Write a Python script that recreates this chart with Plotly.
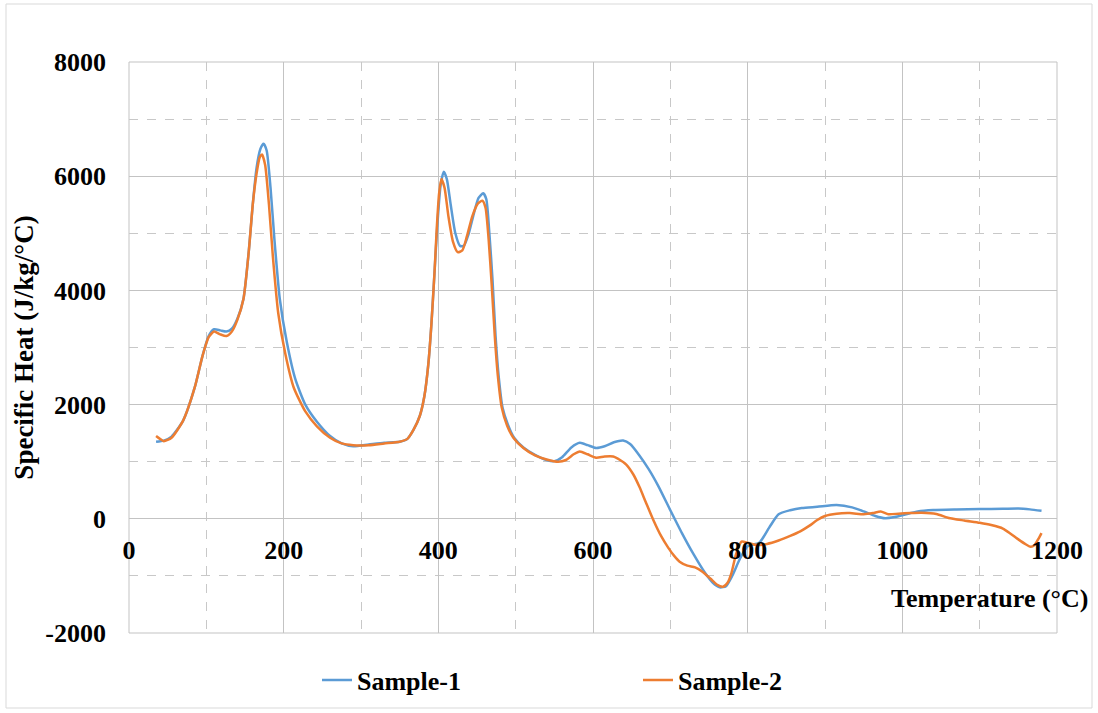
import plotly.graph_objects as go

# ---------------- data ----------------
s1_temp = [35, 45, 55, 70, 85, 95, 103, 110, 118, 126, 133, 140, 148, 155, 160, 165, 170, 174, 178, 183,
           188, 195, 204, 215, 228, 243, 260, 275, 290, 310, 330, 350, 360, 368, 376, 382, 387, 391, 395, 399,
           403, 407, 411, 416, 422, 428, 433, 439, 446, 452, 458, 462, 466, 470, 474, 478, 483, 490, 498, 510,
           525, 540, 550, 560, 572, 583, 593, 604, 615, 627, 639, 648, 660, 672, 685, 700, 715, 730, 745, 755,
           764, 772, 780, 790, 800, 815, 828, 840, 855, 870, 890, 915, 935, 950, 965, 978, 990, 1005, 1020, 1040,
           1070, 1100, 1130, 1150, 1165, 1180]
s1_cp = [1350, 1370, 1440, 1720, 2300, 2850, 3200, 3320, 3300, 3280, 3330, 3500, 3850, 4700, 5500, 6150, 6480, 6570, 6450, 5800,
         4900, 3850, 3100, 2450, 2000, 1700, 1450, 1320, 1270, 1300, 1330, 1350, 1400, 1560, 1800, 2150, 2700, 3400, 4300, 5200,
         5850, 6080, 5950, 5500, 5000, 4780, 4780, 4980, 5350, 5620, 5700, 5600, 5000, 4200, 3200, 2500, 1950, 1650, 1420, 1250,
         1120, 1030, 1010, 1080, 1250, 1330, 1290, 1240, 1270, 1340, 1370, 1310, 1110, 870, 560, 150, -250, -620, -950, -1120,
         -1200, -1180, -1000, -700, -480, -420, -150, 80, 150, 190, 210, 240, 200, 130, 50, 10, 30, 80, 130, 155,
         165, 170, 175, 180, 165, 140]

s2_temp = [35, 40, 45, 55, 70, 85, 95, 103, 110, 118, 126, 133, 140, 148, 155, 160, 165, 169, 172, 176,
           181, 186, 193, 202, 213, 228, 243, 260, 275, 290, 310, 330, 350, 360, 368, 376, 382, 387, 391, 395,
           398, 401, 404, 408, 413, 419, 425, 431, 437, 444, 451, 457, 461, 465, 469, 473, 477, 482, 489, 497,
           510, 525, 540, 555, 565, 575, 583, 593, 604, 615, 626, 635, 643, 652, 660, 668, 678, 688, 697, 705,
           712, 722, 732, 742, 752, 760, 768, 774, 779, 785, 792, 800, 812, 825, 840, 855, 868, 880, 890, 900,
           915, 932, 950, 962, 972, 982, 995, 1010, 1025, 1044, 1060, 1080, 1100, 1115, 1130, 1140, 1150, 1160,
           1166, 1171, 1176, 1180]
s2_cp = [1450, 1400, 1360, 1420, 1720, 2300, 2850, 3180, 3280, 3230, 3200, 3280, 3480, 3850, 4700, 5500, 6050, 6330, 6380, 6200,
         5500, 4600, 3600, 2900, 2300, 1880, 1620, 1420, 1320, 1290, 1290, 1320, 1350, 1400, 1560, 1800, 2150, 2700, 3400, 4300,
         5100, 5700, 5950, 5800, 5300, 4850, 4670, 4700, 4950, 5300, 5520, 5570, 5450, 4900, 4100, 3200, 2500, 1950, 1630, 1420,
         1240, 1110, 1040, 1000, 1030, 1130, 1180, 1130, 1070, 1090, 1090, 1030, 950, 780, 560, 300, -20, -300, -500, -650,
         -750, -820, -850, -930, -1050, -1150, -1190, -1120, -950, -620, -400, -420, -460, -440, -380, -300, -220, -120, -20, 50,
         90, 100, 80, 100, 130, 80, 90, 100, 105, 85, 15, -30, -70, -110, -170, -260, -360, -450,
         -490, -460, -350, -250]

series_names = ["Sample-1", "Sample-2"]
x_ticks = [0, 200, 400, 600, 800, 1000, 1200]
y_ticks = [-2000, 0, 2000, 4000, 6000, 8000]

# ---------------- figure ----------------
FONT = "Liberation Serif, Times New Roman, serif"
W, H = 1098, 713
ML, MR, MT, MB = 129, 41, 62, 80
PW, PH = W - ML - MR, H - MT - MB

def px_x(p):
    return (p - ML) / PW

def px_y(p):
    return (H - MB - p) / PH

fig = go.Figure()
fig.add_trace(go.Scatter(x=s1_temp, y=s1_cp, name=series_names[0], mode="lines",
                         line=dict(color="#5B9BD5", width=2.5, shape="spline", smoothing=0.6)))
fig.add_trace(go.Scatter(x=s2_temp, y=s2_cp, name=series_names[1], mode="lines",
                         line=dict(color="#ED7D31", width=2.5, shape="spline", smoothing=0.6)))

ymin, ymax = -2000, 8000
fig.update_layout(
    width=W, height=H,
    margin=dict(l=ML, r=MR, t=MT, b=MB, autoexpand=False),
    paper_bgcolor="white", plot_bgcolor="white",
    font=dict(family=FONT, size=26, color="black", weight="bold"),
    xaxis=dict(
        range=[0, 1200], tickvals=x_ticks, ticktext=[str(v) for v in x_ticks],
        showgrid=True, gridcolor="#c3c3c3", gridwidth=1,
        minor=dict(dtick=100, tick0=0, showgrid=True, gridcolor="#c8c8c8", griddash="dash", gridwidth=1),
        anchor="free", position=(0 - ymin) / (ymax - ymin),
        showline=False, zeroline=False, ticks="", ticklabelstandoff=13,
        tickfont=dict(family=FONT, size=26, color="black", weight="bold"),
        fixedrange=True,
    ),
    yaxis=dict(
        range=[ymin, ymax], tickvals=y_ticks, ticktext=[str(v) for v in y_ticks],
        showgrid=True, gridcolor="#c3c3c3", gridwidth=1,
        minor=dict(dtick=1000, tick0=0, showgrid=True, gridcolor="#c8c8c8", griddash="dash", gridwidth=1),
        showline=False, zeroline=False, ticks="", ticklabelstandoff=22,
        tickfont=dict(family=FONT, size=26, color="black", weight="bold"),
        title=dict(text="Specific Heat (J/kg/°C)", standoff=3,
                   font=dict(family=FONT, size=27, color="black", weight="bold")),
        fixedrange=True,
    ),
    legend=dict(orientation="h", x=px_x(317), y=px_y(680), xanchor="left", yanchor="middle",
                entrywidth=276, entrywidthmode="pixels", bgcolor="rgba(0,0,0,0)",
                font=dict(family=FONT, size=26, color="black", weight="bold")),
    annotations=[dict(text="Temperature (°C)", xref="paper", yref="paper",
                      x=px_x(1090), y=px_y(598), xanchor="right", yanchor="middle", showarrow=False,
                      font=dict(family=FONT, size=26, color="black", weight="bold"))],
    shapes=[
        dict(type="rect", xref="paper", yref="paper", x0=0, x1=1, y0=0, y1=1,
             line=dict(color="#c3c3c3", width=1), layer="below"),
        dict(type="rect", xref="paper", yref="paper", x0=px_x(6), x1=px_x(1092), y0=px_y(708), y1=px_y(4),
             line=dict(color="#d9d9d9", width=1), layer="below"),
    ],
)

fig.write_html("out.html")
